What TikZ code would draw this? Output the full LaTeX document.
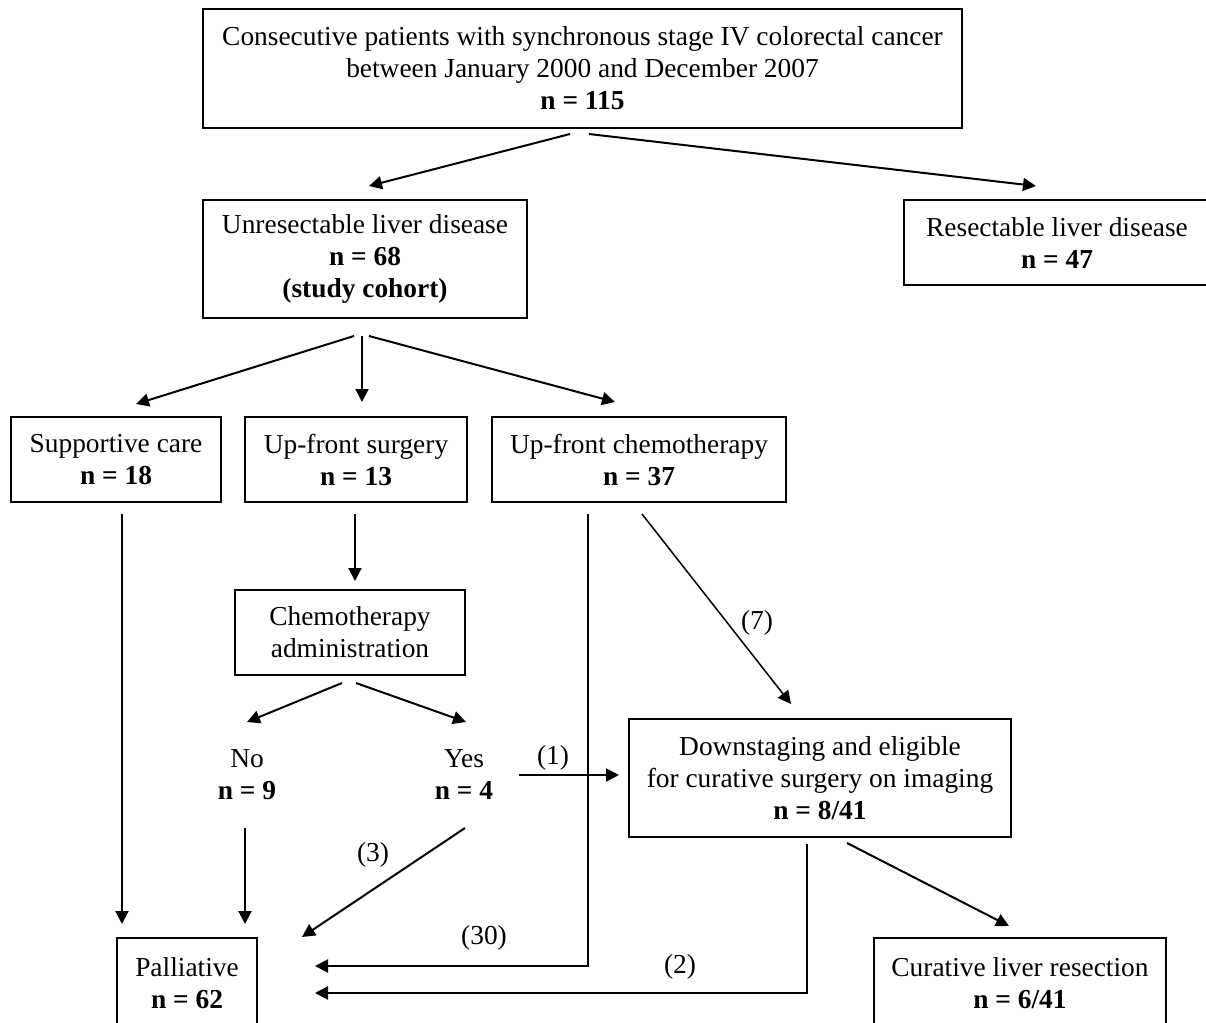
\documentclass[tikz,border=0pt]{standalone}
\usepackage{fontspec}
\setmainfont{Liberation Serif}
\usetikzlibrary{arrows.meta,calc}

\begin{document}
\begin{tikzpicture}[x=0.5pt,y=-0.5pt]

\tikzset{
  BoxStyle/.style = { draw, rectangle, line width = 1pt, align = center,
                      inner sep = 0pt, font = \fontsize{13.7}{16}\selectfont },
  TextStyle/.style = { align = center, inner sep = 0pt,
                       font = \fontsize{13.7}{16}\selectfont },
  EdgeStyle/.style = { line width = 1pt,
                       -{Triangle[length=6.5pt,width=6.5pt]} } }
  \useasboundingbox (0,0) rectangle (1206,1023);

  \node[BoxStyle, minimum width=379.5pt, minimum height=59.5pt] (all) at (582.5,68.5)
    {Consecutive patients with synchronous stage IV colorectal cancer\\
     between January 2000 and December 2007\\ \textbf{n = 115}};
  \node[BoxStyle, minimum width=162pt, minimum height=59pt] (unres) at (365,259)
    {Unresectable liver disease\\ \textbf{n = 68}\\ \textbf{(study cohort)}};
  \node[BoxStyle, minimum width=153pt, minimum height=42.5pt] (res) at (1057,242.5)
    {Resectable liver disease\\ \textbf{n = 47}};

  \node[BoxStyle, minimum width=105pt, minimum height=42.5pt] (supp) at (116,459.5)
    {Supportive care\\ \textbf{n = 18}};
  \node[BoxStyle, minimum width=111pt, minimum height=42.5pt] (surg) at (356,459.5)
    {Up-front surgery\\ \textbf{n = 13}};
  \node[BoxStyle, minimum width=147pt, minimum height=42.5pt] (chemo) at (639,459.5)
    {Up-front chemotherapy\\ \textbf{n = 37}};

  \node[BoxStyle, minimum width=115pt, minimum height=42.5pt] (admin) at (350,632.5)
    {Chemotherapy\\ administration};
  \node[TextStyle] (no) at (247,775) {No\\ \textbf{n = 9}};
  \node[TextStyle] (yes) at (464,775) {Yes\\ \textbf{n = 4}};

  \node[BoxStyle, minimum width=191pt, minimum height=59pt] (down) at (820,778)
    {Downstaging and eligible\\ for curative surgery on imaging\\ \textbf{n = 8/41}};
  \node[BoxStyle, minimum width=70pt, minimum height=45pt] (pall) at (187,983)
    {Palliative\\ \textbf{n = 62}};
  \node[BoxStyle, minimum width=146pt, minimum height=45pt] (cure) at (1020,983)
    {Curative liver resection\\ \textbf{n = 6/41}};

  \draw[EdgeStyle] ($(all.south)+(-12.5,5)$) -- ($(unres.north)+(4,-13)$);
  \draw[EdgeStyle] ($(all.south)+(6.5,5)$) -- ($(res.north)+(-21,-13)$);

  \draw[EdgeStyle] ($(unres.south)+(-11,17)$) -- ($(supp.north)+(20,-12)$);
  \draw[EdgeStyle] ($(unres.south)+(-3,17)$) -- ($(surg.north)+(6,-14)$);
  \draw[EdgeStyle] ($(unres.south)+(4,17)$) -- ($(chemo.north)+(-24,-14)$);

  \draw[EdgeStyle] ($(supp.south)+(6,11)$) -- ($(pall.north)+(-65,-13)$);
  \draw[EdgeStyle] ($(surg.south)+(-1,11)$) -- ($(admin.north)+(5,-8)$);
  \draw[EdgeStyle] ($(admin.south)+(-8,7)$) -- ($(no)+(0,-53)$);
  \draw[EdgeStyle] ($(admin.south)+(6,7)$) -- ($(yes)+(2,-53)$);
  \draw[EdgeStyle] ($(no)+(-2,53)$) -- ($(pall.north)+(58,-13)$);

  \draw[EdgeStyle] ($(yes)+(1,53)$) -- ($(pall.north)+(115,0)$);
  \node[TextStyle] (l3) at (373,855) {(3)};
  \draw[EdgeStyle] ($(yes)+(55,0)$) -- ($(down.west)+(-9,-3)$);
  \node[TextStyle] (l1) at (553,758) {(1)};
  \draw[EdgeStyle, line width=0.75pt] ($(chemo.south)+(3,11)$) -- ($(down.north)+(-29,-14)$);
  \node[TextStyle] (l7) at (757,623) {(7)};

  \draw[EdgeStyle] ($(chemo.south)+(-51,11)$) |- ($(pall.east)+(57,-17)$);
  \node[TextStyle] (l30) at (484,938) {(30)};
  \draw[EdgeStyle] ($(down.south)+(-13,6)$) |- ($(pall.east)+(57,10)$);
  \node[TextStyle] (l2) at (680,967) {(2)};
  \draw[EdgeStyle] ($(down.south)+(27,5)$) -- ($(cure.north)+(-11,-11)$);

\end{tikzpicture}
\end{document}
